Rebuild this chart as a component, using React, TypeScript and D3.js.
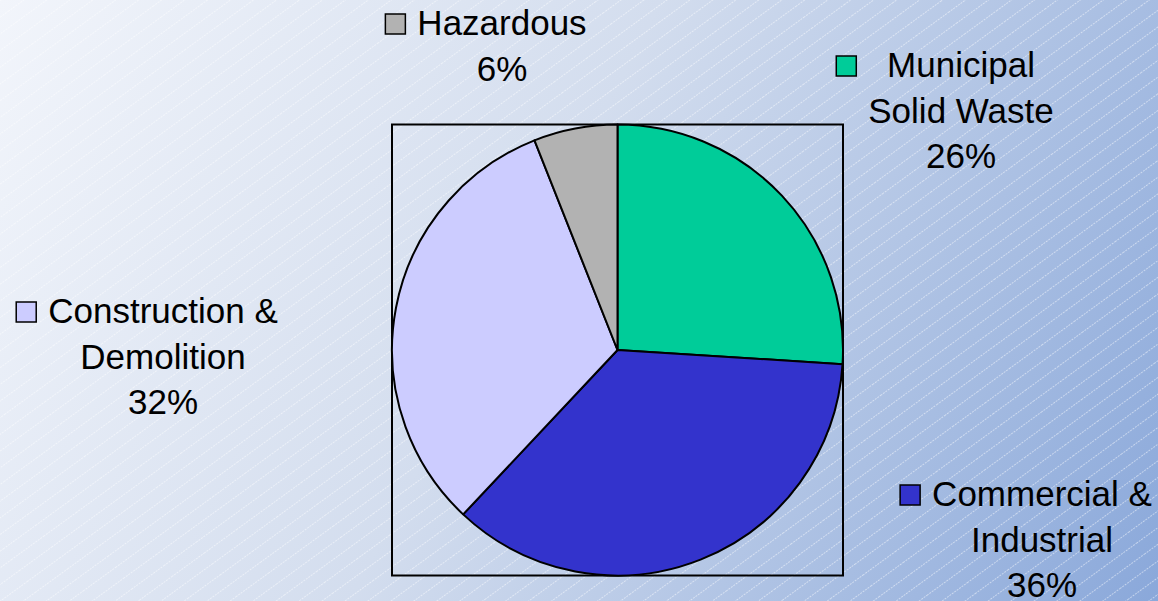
import { useEffect, useRef } from "react";
import * as d3 from "d3";

const categories = ["Municipal Solid Waste", "Commercial & Industrial", "Construction & Demolition", "Hazardous"];
const values = [26, 36, 32, 6];
const colors = ["#00cc99", "#3333cc", "#ccccff", "#b2b2b2"];
// label lines as drawn in the chart
const labelLines = [
  ["Municipal", "Solid Waste", "26%"],
  ["Commercial &", "Industrial", "36%"],
  ["Construction &", "Demolition", "32%"],
  ["Hazardous", "6%"],
];

const width = 1158;
const height = 601;
const cx = 617.5;
const cy = 350;
const radius = 225.5;
// label block centres (x) and first baseline (y)
const labelPos = [
  { x: 961, y: 77 },
  { x: 1042, y: 506 },
  { x: 163, y: 323 },
  { x: 502, y: 35 },
];

export default function App() {
  const ref = useRef<SVGSVGElement>(null);

  useEffect(() => {
    const svg = d3.select(ref.current);
    svg.selectAll("*").remove();

    const defs = svg.append("defs");
    const grad = defs
      .append("linearGradient")
      .attr("id", "bg")
      .attr("gradientUnits", "userSpaceOnUse")
      .attr("x1", 0)
      .attr("y1", 0)
      .attr("x2", width)
      .attr("y2", height);
    grad.append("stop").attr("offset", 0).attr("stop-color", "#f2f5fb");
    grad.append("stop").attr("offset", 0.45).attr("stop-color", "#d3ddee");
    grad.append("stop").attr("offset", 1).attr("stop-color", "#8aa8da");

    const pat = defs
      .append("pattern")
      .attr("id", "hatch")
      .attr("patternUnits", "userSpaceOnUse")
      .attr("width", 40)
      .attr("height", 13.5)
      .attr("patternTransform", "rotate(-36)");
    pat
      .append("line")
      .attr("x1", 0)
      .attr("x2", 40)
      .attr("y1", 0.5)
      .attr("y2", 0.5)
      .attr("stroke", "#ffffff")
      .attr("stroke-width", 0.8)
      .attr("stroke-dasharray", "2,1")
      .attr("opacity", 0.6);

    svg.append("rect").attr("width", width).attr("height", height).attr("fill", "url(#bg)");
    svg.append("rect").attr("width", width).attr("height", height).attr("fill", "url(#hatch)");

    // plot frame
    svg
      .append("rect")
      .attr("x", cx - radius)
      .attr("y", cy - radius)
      .attr("width", radius * 2)
      .attr("height", radius * 2)
      .attr("fill", "none")
      .attr("stroke", "#000")
      .attr("stroke-width", 2);

    const pie = d3.pie<number>().sort(null).value((d) => d);
    const arc = d3.arc<d3.PieArcDatum<number>>().innerRadius(0).outerRadius(radius);

    svg
      .append("g")
      .attr("transform", `translate(${cx},${cy})`)
      .selectAll("path")
      .data(pie(values))
      .join("path")
      .attr("d", arc)
      .attr("fill", (_, i) => colors[i])
      .attr("stroke", "#000")
      .attr("stroke-width", 2)
      .attr("stroke-linejoin", "round");

    const lineH = 45.5;
    categories.forEach((_, i) => {
      const g = svg.append("g");
      const p = labelPos[i];
      let minLeft = Infinity;
      labelLines[i].forEach((t, j) => {
        const txt = g
          .append("text")
          .attr("x", p.x)
          .attr("y", p.y + j * lineH)
          .attr("text-anchor", "middle")
          .attr("font-family", "'Liberation Sans', Arial, sans-serif")
          .attr("font-size", 35)
          .attr("fill", "#000")
          .text(t);
        const w = (txt.node() as SVGTextElement).getComputedTextLength();
        minLeft = Math.min(minLeft, p.x - w / 2);
      });
      g.append("rect")
        .attr("x", minLeft - 12 - 20)
        .attr("y", p.y - 21)
        .attr("width", 20)
        .attr("height", 20)
        .attr("fill", colors[i])
        .attr("stroke", "#000")
        .attr("stroke-width", 1.5);
    });
  }, []);

  return (
    <svg
      ref={ref}
      width={width}
      height={height}
      style={{ position: "absolute", left: 0, top: 0 }}
    />
  );
}
